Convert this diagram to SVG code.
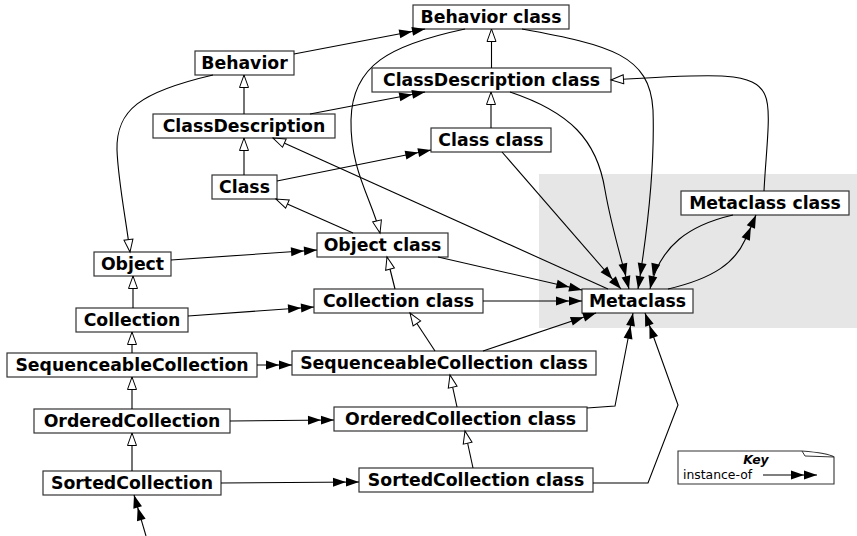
<svg xmlns="http://www.w3.org/2000/svg" width="857" height="536" viewBox="0 0 857 536">
<style>
.box{fill:#fff;stroke:#333;stroke-width:1.2}
.lbl{font-family:"DejaVu Sans",Verdana,sans-serif;font-weight:bold;font-size:17.3px;fill:#000;text-anchor:middle}
.c{fill:none;stroke:#000;stroke-width:1.1}
.inst{marker-end:url(#dbl)}
.inh{marker-end:url(#hollow)}
.keytxt{font-family:"DejaVu Sans",Verdana,sans-serif;font-size:12.4px;fill:#000}
</style>
<defs>
<marker id="dbl" markerUnits="userSpaceOnUse" markerWidth="26" markerHeight="10" refX="26" refY="4.5" orient="auto" overflow="visible">
<path d="M0,0 L13,4.5 L0,9 Z M13,0 L26,4.5 L13,9 Z" fill="#000"/>
</marker>
<marker id="hollow" markerUnits="userSpaceOnUse" markerWidth="13" markerHeight="10" refX="13" refY="5" orient="auto" overflow="visible">
<path d="M0.5,0.5 L13,5 L0.5,9.5 Z" fill="#fff" stroke="#000" stroke-width="1"/>
</marker>
</defs>
<rect x="539" y="174" width="318" height="154" fill="#e6e6e6"/>
<g id="nodes">
<g id="behaviorClass"><rect class="box" x="413" y="5" width="156" height="24"/><text class="lbl" x="491" y="23">Behavior class</text></g>
<g id="behavior"><rect class="box" x="195" y="51" width="99" height="24"/><text class="lbl" x="244.5" y="69">Behavior</text></g>
<g id="classDescriptionClass"><rect class="box" x="372" y="68" width="239" height="24"/><text class="lbl" x="491.5" y="86">ClassDescription class</text></g>
<g id="classDescription"><rect class="box" x="153" y="114" width="182" height="24"/><text class="lbl" x="244" y="132">ClassDescription</text></g>
<g id="classClass"><rect class="box" x="431" y="128" width="120" height="24"/><text class="lbl" x="491" y="146">Class class</text></g>
<g id="class"><rect class="box" x="212" y="175" width="65" height="24"/><text class="lbl" x="244.5" y="193">Class</text></g>
<g id="objectClass"><rect class="box" x="317" y="233" width="131" height="24"/><text class="lbl" x="382.5" y="251">Object class</text></g>
<g id="object"><rect class="box" x="94" y="252" width="77" height="24"/><text class="lbl" x="132.5" y="270">Object</text></g>
<g id="collectionClass"><rect class="box" x="314" y="289" width="169" height="24"/><text class="lbl" x="398.5" y="307">Collection class</text></g>
<g id="metaclass"><rect class="box" x="582" y="289" width="111" height="24"/><text class="lbl" x="637.5" y="307">Metaclass</text></g>
<g id="metaclassClass"><rect class="box" x="681" y="191" width="168" height="24"/><text class="lbl" x="765" y="209">Metaclass class</text></g>
<g id="collection"><rect class="box" x="76" y="308" width="112" height="24"/><text class="lbl" x="132" y="326">Collection</text></g>
<g id="sequenceableCollection"><rect class="box" x="7" y="353" width="250" height="24"/><text class="lbl" x="132" y="371">SequenceableCollection</text></g>
<g id="sequenceableCollectionClass"><rect class="box" x="292" y="351" width="304" height="24"/><text class="lbl" x="444" y="369">SequenceableCollection class</text></g>
<g id="orderedCollection"><rect class="box" x="34" y="409" width="196" height="24"/><text class="lbl" x="132" y="427">OrderedCollection</text></g>
<g id="orderedCollectionClass"><rect class="box" x="334" y="407" width="253" height="24"/><text class="lbl" x="460.5" y="425">OrderedCollection class</text></g>
<g id="sortedCollection"><rect class="box" x="43" y="471" width="178" height="24"/><text class="lbl" x="132" y="489">SortedCollection</text></g>
<g id="sortedCollectionClass"><rect class="box" x="359" y="468" width="234" height="24"/><text class="lbl" x="476" y="486">SortedCollection class</text></g>
</g>
<g id="connectors">
<!-- instance-of -->
<path class="c inst" d="M294,54 L425,29"/>
<path class="c inst" d="M310,114 L425,92"/>
<path class="c inst" d="M277,181 L431,150"/>
<path class="c inst" d="M171,260 L317,250"/>
<path class="c inst" d="M188,316 L314,307"/>
<path class="c inst" d="M257,365 L292,365"/>
<path class="c inst" d="M230,421 L334,420"/>
<path class="c inst" d="M221,483 L359,482"/>
<path class="c inst" d="M146,536 L134,495"/>
<path class="c inst" d="M438,257 L582,290"/>
<path class="c inst" d="M483,301 L582,301"/>
<path class="c inst" d="M483,351 L596,313"/>
<path class="c inst" d="M587,408 L615,406 L633,313"/>
<path class="c inst" d="M593,483 L648,483 L678,405 L645,313"/>
<path class="c inst" d="M502,152 L621,289"/>
<path class="c inst" d="M510,92 C570,112 597,140 605,190 C612,230 622,260 629,289"/>
<path class="c inst" d="M522,29 C610,45 650,55 653,110 C655,170 646,240 638,289"/>
<path class="c inst" d="M733,215 C690,225 660,245 650,289"/>
<path class="c inst" d="M668,289 C715,278 735,262 745,240 C750,230 753,222 756,215"/>
<!-- inheritance -->
<path class="c inh" d="M213,75 C140,92 116,110 117,150 C118,180 126,220 130,252"/>
<path class="c inh" d="M465,29 C390,45 352,65 351,120 C350,170 372,200 380,233"/>
<path class="c inh" d="M353,233 L276,199"/>
<path class="c inh" d="M608,289 L273,138"/>
<path class="c inh" d="M764,191 C766,150 772,110 765,95 C755,72 720,73 611,80"/>
<path class="c inh" d="M395,289 L387,257"/>
<path class="c inh" d="M435,351 L410,313"/>
<path class="c inh" d="M457,407 L450,375"/>
<path class="c inh" d="M473,468 L465,431"/>
<path class="c inh" d="M491.5,68 L491.5,29"/>
<path class="c inh" d="M491,128 L491,92"/>
<path class="c inh" d="M244,114 L244,75"/>
<path class="c inh" d="M244,175 L244,138"/>
<path class="c inh" d="M133,308 L133,276"/>
<path class="c inh" d="M132,353 L132,332"/>
<path class="c inh" d="M132,409 L132,377"/>
<path class="c inh" d="M132,471 L132,433"/>
</g>
<g id="key">
<path d="M678,451 H802 C815,452 828,453 834,457 V484 H678 Z" fill="#fff" stroke="#333" stroke-width="1.1"/>
<path d="M802,451 L805,456 L834,457" fill="none" stroke="#333" stroke-width="1"/>
<text class="keytxt" x="756" y="464" text-anchor="middle" font-weight="bold" font-style="italic">Key</text>
<text class="keytxt" x="683" y="479">instance-of</text>
<path class="c inst" d="M763,475 L817,475"/>
</g>
</svg>
